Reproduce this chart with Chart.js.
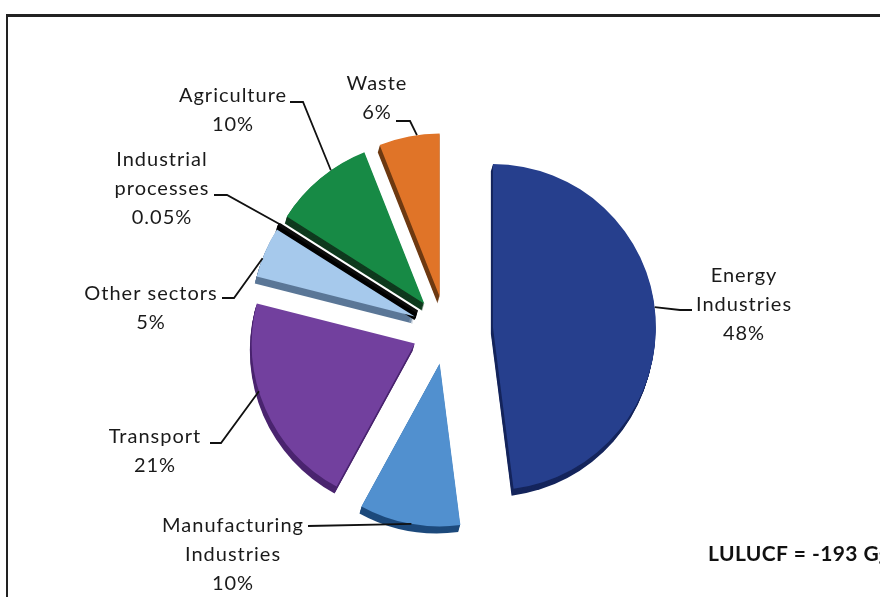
<!DOCTYPE html>
<html lang="en">
<head>
<meta charset="UTF-8">
<script src="https://cdn.jsdelivr.net/npm/chart.js"></script>
<style>
    body { margin: 0; background: #fff; overflow: hidden; }
    #frame {
        position: absolute; left: 6px; top: 14px;
        width: 1000px; height: 800px;
        border-left: 2px solid #222; border-top: 3px solid #222;
    }
    #pie { position: absolute; left: 0; top: 0; }
</style>
<title>Emissions by sector</title>
</head>
<body>
<div id="frame"></div>
<canvas id="pie" width="880" height="597"></canvas>
<script>
    // shares of total emissions, clockwise from 12 o'clock
    var sectors = ['Energy Industries', 'Manufacturing Industries', 'Transport', 'Other sectors',
                   'Industrial processes', 'Agriculture', 'Waste'];
    var shares = [48, 10, 21, 5, 0.05, 10, 6];
    var shareLabels = ['48%', '10%', '21%', '5%', '0.05%', '10%', '6%'];
    var lulucf = -193;

    var topColors  = ['#263f8d', '#5190cf', '#72409e', '#a6c9ec', '#0c0c0c', '#178a45', '#e07428'];
    var sideColors = ['#15255c', '#1d4a7c', '#4a246f', '#5b7797', '#000000', '#0f3a1e', '#6e3a12'];
    var explode = [47, 34, 34, 34, 34, 34, 34];
    var depth = {dx: -2, dy: 7};

    // label block: centre x, first baseline, split name in two lines, elbow points, anchor angle (deg)
    var labelPos = [
        {x: 744, y: 282, split: true, path: [[692, 310], [680, 310]], at: 83},
        {x: 233, y: 532, split: true, path: [[308, 526]], at: 190},
        {x: 155, y: 443, path: [[210, 443], [221, 443]], at: 253},
        {x: 151, y: 300, path: [[222, 298], [234, 298]], at: 291},
        {x: 162, y: 166, split: true, path: [[214, 195], [227, 195]], at: 302.5},
        {x: 233, y: 102, path: [[290, 102], [303, 102]], at: 325},
        {x: 377, y: 90, path: [[396, 121], [410, 121]], at: 352}
    ];

    // push every slice out along its middle angle
    const explodePlugin = {
        id: 'explode',
        afterDatasetUpdate(chart, args) {
            args.meta.data.forEach((arc, i) => {
                let mid = (arc.startAngle + arc.endAngle) / 2;
                arc.x += Math.cos(mid) * explode[i];
                arc.y += Math.sin(mid) * explode[i];
            });
        }
    };

    // thickness of the pie: stacked darker copies under each slice
    const depthPlugin = {
        id: 'depth',
        beforeDatasetsDraw(chart) {
            let ctx = chart.ctx;
            let steps = depth.dy;
            chart.getDatasetMeta(0).data.forEach((arc, i) => {
                ctx.save();
                ctx.fillStyle = sideColors[i];
                ctx.strokeStyle = sideColors[i];
                for (let k = steps; k >= 1; k--) {
                    let cx = arc.x + depth.dx * k / steps;
                    let cy = arc.y + depth.dy * k / steps;
                    ctx.beginPath();
                    ctx.moveTo(cx, cy);
                    ctx.arc(cx, cy, arc.outerRadius, arc.startAngle, arc.endAngle);
                    ctx.closePath();
                    ctx.fill();
                    if (arc.options.borderWidth) {
                        ctx.lineWidth = arc.options.borderWidth;
                        ctx.stroke();
                    }
                }
                ctx.restore();
            });
        }
    };

    const labelPlugin = {
        id: 'sectorLabels',
        afterDatasetsDraw(chart) {
            let ctx = chart.ctx;
            let arcs = chart.getDatasetMeta(0).data;
            ctx.save();
            ctx.font = '20px Lato';
            ctx.letterSpacing = '1px';
            ctx.fillStyle = '#1a1a1a';
            ctx.textAlign = 'center';
            ctx.textBaseline = 'alphabetic';
            labelPos.forEach((p, i) => {
                let lines = p.split ? sectors[i].split(' ') : [sectors[i]];
                lines = lines.concat([shareLabels[i]]);
                lines.forEach((t, j) => ctx.fillText(t, p.x, p.y + j * 29));

                let arc = arcs[i];
                let a = p.at * Math.PI / 180 - Math.PI / 2;
                let ax = arc.x + Math.cos(a) * arc.outerRadius;
                let ay = arc.y + Math.sin(a) * arc.outerRadius;
                ctx.beginPath();
                ctx.moveTo(p.path[0][0], p.path[0][1]);
                p.path.slice(1).forEach(q => ctx.lineTo(q[0], q[1]));
                ctx.lineTo(ax, ay);
                ctx.lineWidth = 1.8;
                ctx.strokeStyle = '#111';
                ctx.stroke();
            });

            ctx.font = 'bold 21px Lato';
            ctx.letterSpacing = '0.4px';
            ctx.textAlign = 'left';
            ctx.fillStyle = '#111';
            ctx.fillText('LULUCF = ' + lulucf + ' Gg', 708, 561);
            ctx.restore();
        }
    };

    var chart = new Chart(document.getElementById('pie'), {
        type: 'pie',
        data: {
            labels: sectors,
            datasets: [{
                data: shares,
                backgroundColor: topColors,
                borderColor: '#0c0c0c',
                borderWidth: [0, 0, 0, 0, 3, 0, 0]
            }]
        },
        options: {
            responsive: false,
            animation: false,
            events: [],
            radius: 163,
            layout: {padding: {left: 12, right: 0, top: 63, bottom: 0}},
            plugins: {
                legend: {display: false},
                tooltip: {enabled: false}
            }
        },
        plugins: [explodePlugin, depthPlugin, labelPlugin]
    });
</script>
</body>
</html>
